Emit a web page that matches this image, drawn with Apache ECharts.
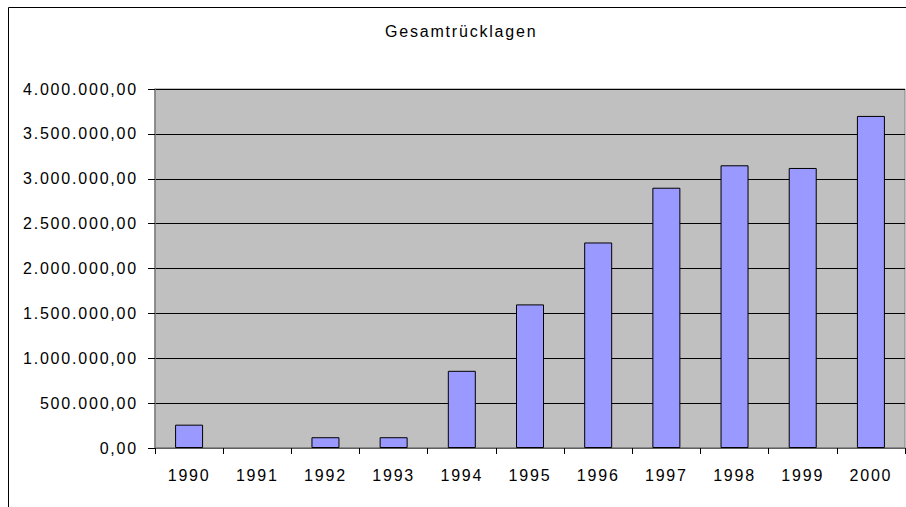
<!DOCTYPE html>
<html>
<head>
<meta charset="utf-8">
<script src="https://cdn.jsdelivr.net/npm/echarts@6/dist/echarts.min.js"></script>
<style>
  html, body { margin: 0; padding: 0; background: #fff; }
  #chart { width: 906px; height: 507px; }
  #chart svg text { letter-spacing: 1.8px; }
</style>
</head>
<body>
<div id="chart"></div>
<script>
const titleText = 'Gesamtrücklagen';
const categories = ['1990','1991','1992','1993','1994','1995','1996','1997','1998','1999','2000'];
const values = [260000, 0, 120000, 120000, 860000, 1600000, 2290000, 2900000, 3150000, 3120000, 3700000];
const yMin = 0, yMax = 4000000, yStep = 500000;

function fmtDE(v) {
  const s = Math.round(v).toString().replace(/\B(?=(\d{3})+(?!\d))/g, '.');
  return s + ',00';
}

const chart = echarts.init(document.getElementById('chart'), null, { renderer: 'svg' });
const font = 'Liberation Sans';
chart.setOption({
  animation: false,
  backgroundColor: '#ffffff',
  title: {
    text: titleText,
    left: 380, top: 18,
    textStyle: { fontFamily: font, fontSize: 16, fontWeight: 'normal', color: '#000' }
  },
  grid: {
    left: 155, right: 1, top: 89, bottom: 59,
    show: true, backgroundColor: '#C0C0C0', borderColor: '#808080', borderWidth: 1,
    containLabel: false
  },
  xAxis: {
    type: 'category',
    data: categories,
    boundaryGap: true,
    axisLine: { lineStyle: { color: '#808080', width: 1.5 } },
    axisTick: { show: true, length: 6, alignWithLabel: false, lineStyle: { color: '#000' } },
    axisLabel: { margin: 19, fontFamily: font, fontSize: 16, color: '#000' },
    splitLine: { show: false }
  },
  yAxis: {
    type: 'value',
    min: yMin, max: yMax, interval: yStep,
    axisLine: { show: true, lineStyle: { color: '#808080', width: 1.5 } },
    axisTick: { show: true, length: 7, lineStyle: { color: '#000' } },
    axisLabel: { margin: 17, fontFamily: font, fontSize: 16, color: '#000', formatter: fmtDE },
    splitLine: { show: true, lineStyle: { color: '#000', width: 1 } }
  },
  series: [{
    type: 'bar',
    data: values.map(v => ({ value: v, itemStyle: { borderWidth: v === 0 ? 0 : 1 } })),
    barWidth: 28,
    itemStyle: { color: '#9999FF', borderColor: '#000', borderWidth: 1 }
  }],
  graphic: [{
    type: 'rect',
    shape: { x: 8.5, y: 7.5, width: 1200, height: 1200 },
    style: { fill: 'none', stroke: '#000', lineWidth: 1 },
    silent: true
  }]
});
</script>
</body>
</html>
